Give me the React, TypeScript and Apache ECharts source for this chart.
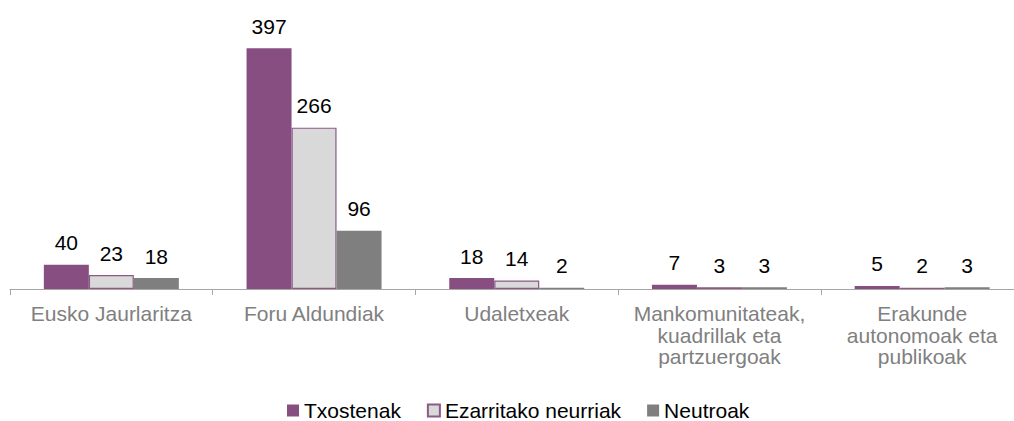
import React, { useEffect, useRef } from "react";
import * as echarts from "echarts";

const categories = [
  "Eusko Jaurlaritza",
  "Foru Aldundiak",
  "Udaletxeak",
  "Mankomunitateak,\nkuadrillak eta\npartzuergoak",
  "Erakunde\nautonomoak eta\npublikoak",
];
const txostenak = [40, 397, 18, 7, 5];
const ezarritakoNeurriak = [23, 266, 14, 3, 2];
const neutroak = [18, 96, 2, 3, 3];
const seriesNames = ["Txostenak", "Ezarritako neurriak", "Neutroak"];

const FONT = "Arial";

export default function App() {
  const ref = useRef<HTMLDivElement>(null);
  useEffect(() => {
    if (!ref.current) return;
    const chart = echarts.init(ref.current, undefined, { renderer: "svg" });
    const label = {
      show: true,
      position: "top",
      distance: 11.5,
      fontSize: 21,
      color: "#000000",
      fontFamily: FONT,
    };
    chart.setOption({
      animation: false,
      textStyle: { fontFamily: FONT },
      grid: { left: 10, width: 1013.5, top: 16, bottom: 132, containLabel: false },
      legend: {
        left: 287,
        top: 400,
        padding: 0,
        itemWidth: 12,
        itemHeight: 12,
        itemGap: 26,
        icon: "rect",
        textStyle: { fontSize: 21, color: "#000000", fontFamily: FONT },
        data: seriesNames,
      },
      xAxis: {
        type: "category",
        data: categories,
        axisLine: { lineStyle: { color: "#A6A6A6", width: 1 } },
        axisTick: { show: true, length: 6, lineStyle: { color: "#A6A6A6" } },
        axisLabel: {
          color: "#808080",
          fontSize: 21,
          lineHeight: 21.5,
          margin: 14,
          interval: 0,
          fontFamily: FONT,
        },
      },
      yAxis: {
        type: "value",
        min: 0,
        max: 450,
        show: false,
        splitLine: { show: false },
      },
      series: [
        {
          name: seriesNames[0],
          type: "bar",
          data: txostenak,
          barGap: "0%",
          barCategoryGap: "33.4%",
          itemStyle: { color: "#874F81" },
          label,
        },
        {
          name: seriesNames[1],
          type: "bar",
          data: ezarritakoNeurriak,
          barGap: "0%",
          barCategoryGap: "33.4%",
          itemStyle: { color: "#D9D9D9", borderColor: "#8B5A87", borderWidth: 1.2 },
          label,
        },
        {
          name: seriesNames[2],
          type: "bar",
          data: neutroak,
          barGap: "0%",
          barCategoryGap: "33.4%",
          itemStyle: { color: "#7F7F7F" },
          label,
        },
      ],
    });
    return () => chart.dispose();
  }, []);
  return (
    <div
      style={{
        position: "fixed",
        left: 0,
        top: 0,
        width: 1014,
        height: 421,
        overflow: "hidden",
        background: "#ffffff",
      }}
    >
      <div ref={ref} style={{ width: 1030, height: 421 }} />
    </div>
  );
}
